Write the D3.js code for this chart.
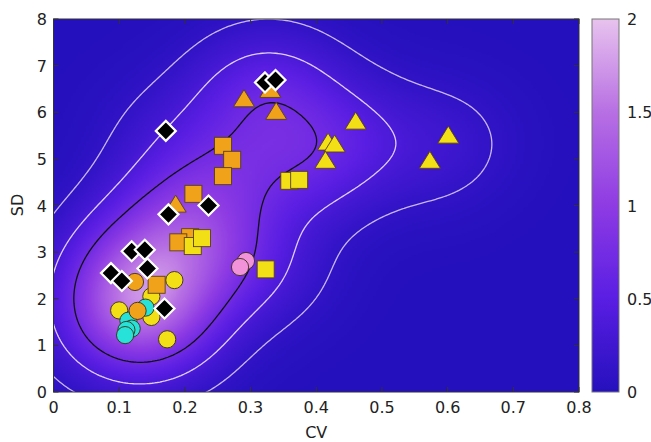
<!DOCTYPE html>
<html><head><meta charset="utf-8">
<script src="https://cdn.jsdelivr.net/npm/d3@7"></script>
<style>body{margin:0;background:#fff}svg{display:block}text{font-family:"DejaVu Sans",sans-serif}</style>
</head><body>
<script>
// ---- data (CV, SD) per marker group ----
const yellowTriCV = [0.460,0.418,0.428,0.414,0.601,0.573];
const yellowTriSD = [5.82,5.37,5.33,4.98,5.52,4.98];
const orangeTriCV = [0.186,0.290,0.339,0.330];
const orangeTriSD = [4.04,6.30,6.03,6.50];
const orangeSqCV = [0.258,0.272,0.258,0.213,0.208,0.190,0.157];
const orangeSqSD = [5.28,4.98,4.63,4.25,3.32,3.21,2.30];
const yellowSqCV = [0.212,0.226,0.323,0.359,0.374];
const yellowSqSD = [3.13,3.30,2.63,4.53,4.55];
const yellowCircCV = [0.184,0.149,0.100,0.149,0.173];
const yellowCircSD = [2.40,2.05,1.75,1.61,1.13];
const cyanCircCV = [0.140,0.114,0.119,0.111,0.109];
const cyanCircSD = [1.81,1.53,1.36,1.33,1.22];
const orangeCircCV = [0.124,0.128];
const orangeCircSD = [2.36,1.74];
const pinkCircCV = [0.293,0.284];
const pinkCircSD = [2.81,2.68];
const diamondCV = [0.171,0.175,0.236,0.322,0.338,0.119,0.139,0.0875,0.104,0.143,0.169];
const diamondSD = [5.60,3.81,4.00,6.64,6.69,3.02,3.05,2.55,2.38,2.65,1.79];

const xTicks = [0,0.1,0.2,0.3,0.4,0.5,0.6,0.7,0.8];
const yTicks = [0,1,2,3,4,5,6,7,8];
const cbTicks = [0,0.5,1,1.5,2];
const contourLevels = [0.12, 0.36, 0.72];  // in colour-bar units
const kdeScale = 2.1;                      // colour-bar units per unit density
const bwMulX = 1.15, bwMulY = 1.0;

// ---- layout ----
const W=651,H=442;
const x = d3.scaleLinear().domain([0,0.8]).range([53.5,579]);
const y = d3.scaleLinear().domain([0,8]).range([392,19]);
const cbY = d3.scaleLinear().domain([0,2]).range([392,19]);
const color = d3.scaleLinear().domain([0,0.5,1,1.5,2])
  .range(["#2510bd","#5a1ee3","#8e3be3","#b76fe3","#e8c3ee"]).clamp(true);

const svg = d3.select("body").append("svg").attr("width",W).attr("height",H);

// ---- KDE (diagonal Gaussian kernel) from all points ----
const allCV = [].concat(yellowTriCV,orangeTriCV,orangeSqCV,yellowSqCV,yellowCircCV,cyanCircCV,orangeCircCV,pinkCircCV,diamondCV);
const allSD = [].concat(yellowTriSD,orangeTriSD,orangeSqSD,yellowSqSD,yellowCircSD,cyanCircSD,orangeCircSD,pinkCircSD,diamondSD);
const n = allCV.length;
const fac = Math.pow(n,-1/6);
const hx = d3.deviation(allCV)*fac*bwMulX, hy = d3.deviation(allSD)*fac*bwMulY;
const norm = kdeScale/(2*Math.PI*hx*hy)/n;
function dens(u,v){let s=0;for(let i=0;i<n;i++){const dx=(u-allCV[i])/hx,dy=(v-allSD[i])/hy;s+=Math.exp(-0.5*(dx*dx+dy*dy));}return s*norm;}

const gx0=-0.1,gx1=0.9,gy0=-1,gy1=9, NX=250, NY=250;
const ddx=(gx1-gx0)/NX, ddy=(gy1-gy0)/NY;
const grid = new Float64Array(NX*NY);
for(let j=0;j<NY;j++)for(let i=0;i<NX;i++) grid[i+j*NX]=dens(gx0+(i+0.5)*ddx, gy0+(j+0.5)*ddy);

// heatmap image
const cv = document.createElement("canvas"); cv.width=NX; cv.height=NY;
const ctx=cv.getContext("2d"); const img=ctx.createImageData(NX,NY);
for(let j=0;j<NY;j++)for(let i=0;i<NX;i++){
  const col=d3.rgb(color(grid[i+j*NX])); const k=(i+(NY-1-j)*NX)*4;
  img.data[k]=col.r;img.data[k+1]=col.g;img.data[k+2]=col.b;img.data[k+3]=255;}
ctx.putImageData(img,0,0);

svg.append("clipPath").attr("id","pc").append("rect")
  .attr("x",x(0)).attr("y",y(8)).attr("width",x(0.8)-x(0)).attr("height",y(0)-y(8));
const plot = svg.append("g").attr("clip-path","url(#pc)");
plot.append("image").attr("href",cv.toDataURL())
  .attr("x",x(gx0)).attr("y",y(gy1)).attr("width",x(gx1)-x(gx0)).attr("height",y(gy0)-y(gy1))
  .attr("preserveAspectRatio","none");

// contours
const proj = d3.geoTransform({point:function(px,py){this.stream.point(x(gx0+px*ddx), y(gy0+py*ddy));}});
const path = d3.geoPath(proj);
const conts = d3.contours().size([NX,NY]).thresholds(contourLevels)(grid);
const lineCol = ["#c8b8f0","#e0d0f8","#111"];
plot.selectAll("path.ct").data(conts).join("path").attr("class","ct")
  .attr("d",path).attr("fill","none")
  .attr("stroke",(d,i)=>lineCol[i]).attr("stroke-width",1.3);

// ---- markers ----
const mk = plot.append("g");
function circles(cvs,sds,fill){mk.append("g").selectAll("circle").data(cvs).join("circle")
  .attr("cx",d=>x(d)).attr("cy",(d,i)=>y(sds[i])).attr("r",8.6)
  .attr("fill",fill).attr("stroke","#3a3010").attr("stroke-width",0.9);}
function squares(cvs,sds,fill){mk.append("g").selectAll("rect").data(cvs).join("rect")
  .attr("x",d=>x(d)-8.5).attr("y",(d,i)=>y(sds[i])-8.5).attr("width",17).attr("height",17)
  .attr("fill",fill).attr("stroke","#5a4010").attr("stroke-width",0.9);}
function tris(cvs,sds,fill){mk.append("g").selectAll("path").data(cvs).join("path")
  .attr("d",(d,i)=>{const cx=x(d),cy=y(sds[i]);return `M${cx},${cy-8.5}L${cx+10.5},${cy+8.5}L${cx-10.5},${cy+8.5}Z`;})
  .attr("fill",fill).attr("stroke","#5a4010").attr("stroke-width",0.9);}
function diamonds(cvs,sds){mk.append("g").selectAll("path").data(cvs).join("path")
  .attr("d",(d,i)=>{const cx=x(d),cy=y(sds[i]),r=10;return `M${cx},${cy-r}L${cx+r},${cy}L${cx},${cy+r}L${cx-r},${cy}Z`;})
  .attr("fill","#000").attr("stroke","#fff").attr("stroke-width",2.2);}

circles(yellowCircCV,yellowCircSD,"#f2df16");
circles(cyanCircCV,cyanCircSD,"#26e2d8");
circles(orangeCircCV,orangeCircSD,"#f0a21a");
circles(pinkCircCV,pinkCircSD,"#f292da");
squares(orangeSqCV,orangeSqSD,"#f0a21a");
squares(yellowSqCV,yellowSqSD,"#f2df16");
tris(orangeTriCV,orangeTriSD,"#f0a21a");
tris(yellowTriCV,yellowTriSD,"#f2df16");
diamonds(diamondCV,diamondSD);

// ---- axes ----
svg.append("rect").attr("x",x(0)).attr("y",y(8)).attr("width",x(0.8)-x(0)).attr("height",y(0)-y(8))
  .attr("fill","none").attr("stroke","#333").attr("stroke-width",1);
const tk = svg.append("g").attr("stroke","#333").attr("stroke-width",1);
xTicks.forEach(t=>{tk.append("line").attr("x1",x(t)).attr("x2",x(t)).attr("y1",y(0)).attr("y2",y(0)-5);
  tk.append("line").attr("x1",x(t)).attr("x2",x(t)).attr("y1",y(8)).attr("y2",y(8)+5);});
yTicks.forEach(t=>{tk.append("line").attr("x1",x(0)).attr("x2",x(0)+5).attr("y1",y(t)).attr("y2",y(t));
  tk.append("line").attr("x1",x(0.8)).attr("x2",x(0.8)-5).attr("y1",y(t)).attr("y2",y(t));});
svg.append("g").selectAll("text").data(xTicks).join("text")
  .attr("x",d=>x(d)).attr("y",413).attr("text-anchor","middle").attr("font-size",16).attr("fill","#222")
  .text(d=>d3.format("")(d));
svg.append("g").selectAll("text").data(yTicks).join("text")
  .attr("x",47).attr("y",d=>y(d)+6).attr("text-anchor","end").attr("font-size",16).attr("fill","#222")
  .text(d=>d);
svg.append("text").attr("x",x(0.4)).attr("y",438).attr("text-anchor","middle").attr("font-size",16).attr("fill","#222").text("CV");
svg.append("text").attr("transform","translate(23,205) rotate(-90)").attr("text-anchor","middle").attr("font-size",16).attr("fill","#222").text("SD");

// ---- colorbar ----
const defs = svg.append("defs");
const lg = defs.append("linearGradient").attr("id","cbg").attr("x1",0).attr("y1",1).attr("x2",0).attr("y2",0);
d3.range(0,2.0001,0.1).forEach(v=>lg.append("stop").attr("offset",v/2).attr("stop-color",color(v)));
svg.append("rect").attr("x",592).attr("y",cbY(2)).attr("width",27).attr("height",cbY(0)-cbY(2))
  .attr("fill","url(#cbg)").attr("stroke","#777").attr("stroke-width",1);
cbTicks.forEach(t=>{ if(t>0&&t<2){
  tk.append("line").attr("x1",592).attr("x2",596).attr("y1",cbY(t)).attr("y2",cbY(t));
  tk.append("line").attr("x1",619).attr("x2",615).attr("y1",cbY(t)).attr("y2",cbY(t));}});
svg.append("g").selectAll("text").data(cbTicks).join("text")
  .attr("x",627).attr("y",d=>cbY(d)+6).attr("font-size",16).attr("fill","#222").text(d=>d);
</script>
</body></html>
